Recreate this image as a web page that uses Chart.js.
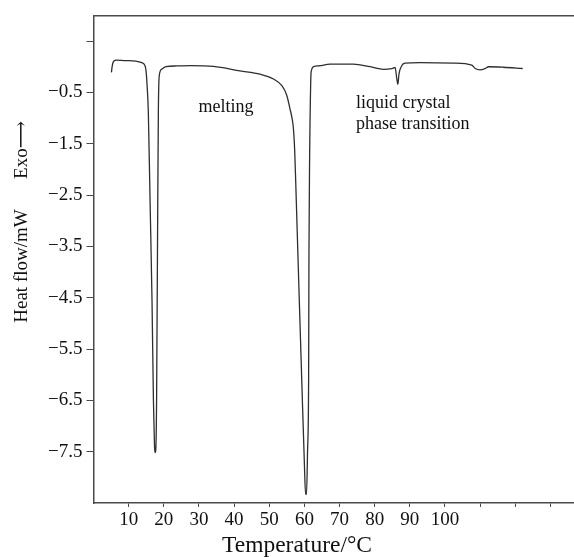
<!DOCTYPE html>
<html lang="en">
<head>
    <script src="https://cdn.jsdelivr.net/npm/chart.js/dist/chart.umd.min.js"></script>
    <style>
        body { margin: 0; background: #fff; }
        #wrap { width: 574px; height: 557px; }
    </style>
</head>
<body>
<div id="wrap">
    <canvas id="chart" width="574" height="557"></canvas>
</div>
<script>
    // DSC curve
    const temps = [5.1, 5.3, 5.6, 6.4, 9.0, 12.0, 13.7, 14.6, 14.95, 15.2, 15.6, 16.1, 16.65, 17.05, 17.35, 17.5, 17.7, 17.95, 18.2, 18.45, 18.7, 19.4, 20.6, 23.7, 27.5, 34.1, 41.7, 47.4, 51.2, 53.6, 55.0, 55.9, 56.4, 56.75, 57.0, 57.25, 57.6, 58.48, 59.4, 59.97, 60.33, 60.6, 60.9, 61.2, 61.3, 61.5, 61.6, 61.9, 62.6, 64.5, 67.3, 73.9, 78.7, 82.5, 84.9, 85.8, 86.3, 86.6, 86.9, 87.7, 88.6, 92.9, 102.4, 107.6, 108.6, 110.0, 111.4, 112.4, 116.6, 122.1];
    const heatFlow = [-0.11, 0.00, 0.09, 0.13, 0.12, 0.11, 0.08, 0.03, -0.08, -0.31, -0.89, -2.63, -4.57, -6.5, -7.38, -7.52, -7.48, -6.5, -3.6, -0.89, -0.18, -0.05, 0.00, 0.015, 0.02, 0.005, -0.08, -0.145, -0.24, -0.37, -0.56, -0.82, -0.97, -1.12, -1.32, -1.65, -2.4, -4.4, -6.45, -7.67, -8.33, -8.33, -7.48, -6.12, -3.6, -1.66, -1.08, -0.11, 0.00, 0.02, 0.05, 0.05, 0.00, -0.05, -0.035, -0.015, -0.24, -0.34, -0.145, 0.02, 0.07, 0.08, 0.07, 0.03, -0.035, -0.06, -0.035, 0.00, -0.01, -0.035];

    const xTickValues = [10, 20, 30, 40, 50, 60, 70, 80, 90, 100, 110, 120, 130];
    const xTickLabels = ['10', '20', '30', '40', '50', '60', '70', '80', '90', '100', '', '', ''];
    const yTickValues = [0.5, -0.5, -1.5, -2.5, -3.5, -4.5, -5.5, -6.5, -7.5];
    const yTickLabels = ['', '\u22120.5', '\u22121.5', '\u22122.5', '\u22123.5', '\u22124.5', '\u22125.5', '\u22126.5', '\u22127.5'];

    const serif = '"Liberation Serif", "DejaVu Serif", serif';
    const axisColor = '#4a4a4a';

    const points = temps.map(function(t, i) { return {x: t, y: heatFlow[i]}; });

    function labelFrom(values, labels) {
        return function(value) {
            const i = values.indexOf(value);
            return i >= 0 ? labels[i] : '';
        };
    }

    const texts = {
        id: 'texts',
        afterDraw(chart) {
            const ctx = chart.ctx;
            ctx.save();
            ctx.fillStyle = '#111';
            ctx.textBaseline = 'middle';
            ctx.font = '18px ' + serif;
            ctx.textAlign = 'center';
            ctx.fillText('melting', 226, 107);
            ctx.textAlign = 'left';
            ctx.fillText('liquid crystal', 356, 103);
            ctx.fillText('phase transition', 356, 124);
            ctx.textAlign = 'center';
            ctx.font = '23.5px ' + serif;
            ctx.fillText('Temperature/\u00b0C', 297, 546);
            ctx.translate(22, 0);
            ctx.rotate(-Math.PI / 2);
            ctx.font = '19px ' + serif;
            ctx.fillText('Heat flow/mW', -266, 0);
            ctx.fillText('Exo\u27f6', -150, 0);
            ctx.restore();
        }
    };

    new Chart(document.getElementById('chart'), {
        type: 'line',
        data: {
            datasets: [{
                data: points,
                borderColor: '#2e2e2e',
                borderWidth: 1.3,
                pointRadius: 0,
                cubicInterpolationMode: 'monotone',
                fill: false
            }]
        },
        options: {
            responsive: false,
            animation: false,
            layout: {padding: {top: 13, right: 0, left: 0, bottom: 0}},
            plugins: {legend: {display: false}, tooltip: {enabled: false}},
            scales: {
                x: {
                    type: 'linear',
                    min: 0,
                    max: 136.7,
                    afterBuildTicks: function(scale) {
                        scale.ticks = xTickValues.map(function(v) { return {value: v}; });
                    },
                    afterFit: function(scale) { scale.height = 54; },
                    ticks: {
                        callback: labelFrom(xTickValues, xTickLabels),
                        color: '#111',
                        font: {family: serif, size: 19},
                        padding: 2,
                        maxRotation: 0,
                        autoSkip: false
                    },
                    grid: {drawOnChartArea: false, drawTicks: true, tickLength: 4, color: axisColor, lineWidth: 1},
                    border: {display: true, color: axisColor, width: 1.5}
                },
                xTop: {
                    type: 'linear',
                    position: 'top',
                    min: 0,
                    max: 136.7,
                    afterFit: function(scale) { scale.height = 0; },
                    ticks: {display: false},
                    grid: {display: false},
                    border: {display: true, color: axisColor, width: 1.5}
                },
                y: {
                    min: -8.5,
                    max: 1.0,
                    afterBuildTicks: function(scale) {
                        scale.ticks = yTickValues.map(function(v) { return {value: v}; });
                    },
                    afterFit: function(scale) { scale.width = 93.5; },
                    ticks: {
                        callback: labelFrom(yTickValues, yTickLabels),
                        color: '#111',
                        font: {family: serif, size: 19},
                        padding: 4
                    },
                    grid: {drawOnChartArea: false, drawTicks: true, tickLength: 7, color: axisColor, lineWidth: 1},
                    border: {display: true, color: axisColor, width: 1.5}
                }
            }
        },
        plugins: [texts]
    });
</script>
</body>
</html>
